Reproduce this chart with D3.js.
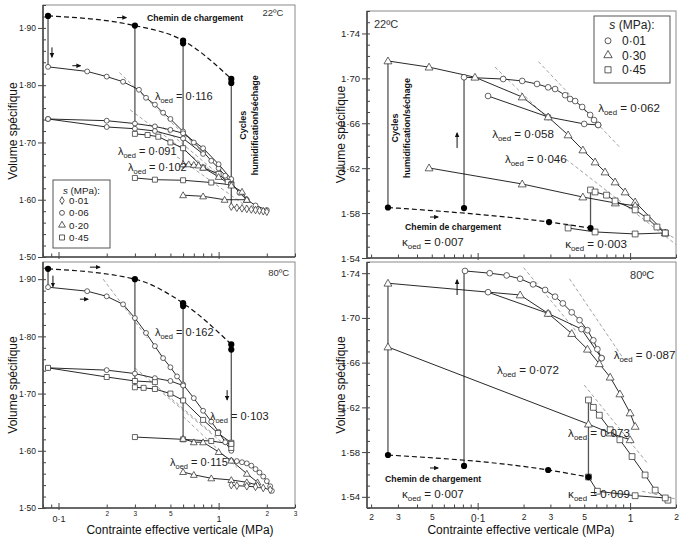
<!DOCTYPE html>
<html><head><meta charset="utf-8">
<script src="https://d3js.org/d3.v7.min.js"></script>
<style>
html,body{margin:0;padding:0;background:#fff;}
svg{display:block;font-family:"Liberation Sans",Arial,Helvetica,sans-serif;}
</style></head>
<body>
<svg id="chart" width="679" height="539"></svg>
<script>
// ---------------- tick labels ----------------
const leftYTicks = [1.50, 1.60, 1.70, 1.80, 1.90];
const leftYLabels = ["1·50", "1·60", "1·70", "1·80", "1·90"];
const rightYTicks = [1.54, 1.58, 1.62, 1.66, 1.70, 1.74];
const rightYLabels = ["1·54", "1·58", "1·62", "1·66", "1·70", "1·74"];
const leftXTicks = [0.1, 0.2, 0.3, 0.5, 1, 2, 3];
const leftXLabels = ["0·1", "2", "3", "5", "1", "2", "3"];
const rightXTicks = [0.02, 0.03, 0.05, 0.1, 0.2, 0.3, 0.5, 1, 2];
const rightXLabels = ["2", "3", "5", "0·1", "2", "3", "5", "1", "2"];
const leftLegendSyms = ["d", "o", "t", "s"];
const leftLegendVals = ["0·01", "0·06", "0·20", "0·45"];
const rightLegendSyms = ["o", "t", "s"];
const rightLegendVals = ["0·01", "0·30", "0·45"];

// ---------------- top-left: 22ºC ----------------
const tl_load = [[0.086,1.921],[0.30,1.904],[0.60,1.878],[1.20,1.811]];
const tl_loadPts = [[0.086,1.921],[0.30,1.904],[0.60,1.878],[0.60,1.873],[1.20,1.811],[1.20,1.804]];
const tl_cycles = [[0.086,1.921,1.832],[0.30,1.904,1.712],[0.60,1.878,1.655],[1.20,1.811,1.584]];
const tl_o1 = [[0.086,1.832],[0.151,1.824],[0.20,1.815],[0.253,1.806],[0.318,1.792],[0.352,1.778],[0.40,1.766],[0.45,1.752],[0.50,1.741],[0.60,1.719],[0.70,1.700],[0.80,1.684],[0.90,1.668],[1.0,1.655],[1.1,1.642],[1.2,1.630],[1.35,1.612],[1.5,1.600],[1.7,1.590],[2.0,1.582]];
const tl_o2 = [[0.086,1.741],[0.20,1.738],[0.30,1.733],[0.40,1.728],[0.50,1.722],[0.60,1.716],[0.80,1.690],[1.0,1.662],[1.2,1.636]];
const tl_o3 = [[0.086,1.741],[0.20,1.727],[0.30,1.724],[0.40,1.720],[0.60,1.707],[0.80,1.680]];
const tl_d = [[1.2,1.588],[1.3,1.586],[1.4,1.585],[1.5,1.584],[1.6,1.583],[1.7,1.582],[1.8,1.581],[1.9,1.580],[2.0,1.579]];
const tl_s1 = [[0.30,1.715],[0.36,1.713],[0.42,1.710],[0.50,1.700],[0.60,1.690],[0.80,1.656],[1.0,1.645],[1.14,1.631],[1.2,1.627]];
const tl_s2 = [[0.30,1.638],[0.40,1.635],[0.60,1.634],[0.90,1.630],[1.2,1.626]];
const tl_t1 = [[0.60,1.662],[0.65,1.662],[0.70,1.661],[0.75,1.660],[0.80,1.656],[1.0,1.640],[1.2,1.625],[1.4,1.614],[1.5,1.600]];
const tl_t2 = [[0.60,1.608],[0.80,1.606],[1.09,1.600],[1.5,1.600]];
const tl_tang = [[[0.24,1.822],[0.80,1.682]],[[0.28,1.757],[1.0,1.641]],[[0.45,1.726],[1.5,1.603]],[[0.55,1.675],[1.5,1.588]]];

// ---------------- bottom-left: 80ºC ----------------
const bl_load = [[0.086,1.918],[0.30,1.900],[0.60,1.858],[1.20,1.786]];
const bl_loadPts = [[0.086,1.918],[0.30,1.900],[0.60,1.858],[0.60,1.853],[1.20,1.786],[1.20,1.777]];
const bl_cycles = [[0.086,1.918,1.886],[0.30,1.900,1.711],[0.60,1.858,1.619],[1.20,1.786,1.605]];
const bl_o1 = [[0.086,1.886],[0.151,1.879],[0.20,1.870],[0.253,1.856],[0.30,1.832],[0.352,1.806],[0.40,1.783],[0.45,1.762],[0.50,1.746],[0.55,1.730],[0.60,1.716],[0.70,1.692],[0.80,1.670],[0.90,1.651],[1.0,1.633],[1.1,1.615],[1.2,1.600]];
const bl_o1b = [[1.2,1.583],[1.3,1.582],[1.4,1.580],[1.5,1.578],[1.6,1.574],[1.7,1.568],[1.8,1.562],[1.9,1.555],[2.0,1.547],[2.1,1.538],[2.15,1.530]];
const bl_o2 = [[0.086,1.745],[0.20,1.741],[0.30,1.735],[0.40,1.727],[0.50,1.722],[0.60,1.714]];
const bl_s0 = [[0.086,1.745],[0.20,1.729],[0.30,1.722],[0.40,1.720]];
const bl_s1 = [[0.30,1.711],[0.34,1.710],[0.40,1.708],[0.50,1.700],[0.60,1.688],[0.80,1.654],[0.99,1.631],[1.2,1.614],[1.2,1.605]];
const bl_s2 = [[0.30,1.624],[0.60,1.620],[0.90,1.617],[1.2,1.612]];
const bl_t1 = [[0.60,1.621],[0.70,1.615],[0.80,1.615],[1.0,1.598],[1.2,1.583],[1.5,1.560],[1.75,1.545]];
const bl_t2 = [[0.60,1.563],[0.70,1.558],[0.90,1.552],[1.2,1.549],[1.5,1.545],[1.75,1.540]];
const bl_d = [[1.2,1.540],[1.3,1.539],[1.5,1.538],[1.7,1.537],[1.9,1.535],[2.1,1.532]];
const bl_tang = [[[0.19,1.900],[0.36,1.797]],[[0.30,1.745],[0.9,1.632]],[[0.6,1.660],[1.3,1.571]],[[0.45,1.700],[1.1,1.610]]];

// ---------------- top-right: 22ºC ----------------
const tr_load = [[0.0258,1.585],[0.294,1.572],[0.55,1.5667]];
const tr_loadPts = [[0.0258,1.585],[0.0814,1.5845],[0.294,1.572],[0.55,1.5667]];
const tr_cycles = [[0.0258,1.585,1.7155],[0.0814,1.5845,1.701],[0.55,1.5667,1.600]];
const tr_o1 = [[0.0814,1.701],[0.147,1.6994],[0.196,1.6977],[0.245,1.695],[0.29,1.692],[0.322,1.6905],[0.375,1.685],[0.404,1.6816],[0.436,1.6798],[0.485,1.6745],[0.547,1.6674],[0.58,1.6629],[0.617,1.6585]];
const tr_o2 = [[0.117,1.6843],[0.29,1.6656],[0.50,1.6594],[0.617,1.6585]];
const tr_t1 = [[0.0258,1.7155],[0.048,1.710],[0.096,1.701],[0.196,1.6834],[0.29,1.6656],[0.392,1.6496],[0.49,1.6362],[0.589,1.6255],[0.685,1.6166],[0.797,1.6077],[0.927,1.5988],[1.079,1.5899],[1.7,1.5623]];
const tr_t2 = [[0.048,1.6202],[0.196,1.6059],[0.49,1.5943],[0.80,1.5890],[1.079,1.5865]];
const tr_s1 = [[0.55,1.6006],[0.589,1.5988],[0.70,1.596],[0.797,1.5908],[1.079,1.5828],[1.29,1.5756],[1.5,1.5676],[1.7,1.5623]];
const tr_s2 = [[0.392,1.5667],[0.589,1.5632],[1.079,1.5614],[1.7,1.5623]];
const tr_tang = [[[0.25,1.715],[0.85,1.639]],[[0.13,1.710],[0.30,1.662]],[[0.38,1.628],[2.0,1.552]],[[1.7,1.5623],[2.0,1.557]]];

// ---------------- bottom-right: 80ºC ----------------
const br_load = [[0.0258,1.5774],[0.29,1.564],[0.533,1.5577]];
const br_loadPts = [[0.0258,1.5774],[0.0814,1.5676],[0.29,1.564],[0.533,1.5577]];
const br_cycles = [[0.0258,1.5774,1.731],[0.0814,1.5676,1.742],[0.533,1.5577,1.6266]];
const br_o1 = [[0.0826,1.742],[0.12,1.740],[0.155,1.738],[0.19,1.735],[0.231,1.730],[0.277,1.725],[0.322,1.719],[0.362,1.713],[0.414,1.705],[0.466,1.698],[0.525,1.689],[0.574,1.680],[0.61,1.672],[0.65,1.664]];
const br_o2 = [[0.117,1.723],[0.29,1.704],[0.48,1.690],[0.65,1.664]];
const br_t1 = [[0.0258,1.731],[0.19,1.7205],[0.29,1.704],[0.414,1.686],[0.525,1.672],[0.628,1.659],[0.74,1.647],[0.857,1.632],[1.0,1.615],[1.079,1.603]];
const br_t2 = [[0.0258,1.674],[0.533,1.605],[0.74,1.597],[1.0,1.591]];
const br_s1 = [[0.533,1.6266],[0.574,1.620],[0.628,1.613],[0.74,1.600],[0.857,1.591],[1.03,1.576],[1.254,1.5595],[1.46,1.546],[1.77,1.537]];
const br_s2 = [[0.533,1.5577],[0.61,1.545],[1.079,1.541],[1.70,1.539]];
const br_tang = [[[0.40,1.735],[0.9,1.664]],[[0.2,1.745],[0.45,1.687]],[[0.5,1.640],[1.3,1.570]],[[1.2,1.545],[2.0,1.538]]];

// ---------------- annotations (data coordinates) ----------------
const tl_lambda = [{g:"λ",v:"0·116",at:[0.40,1.774]},{g:"λ",v:"0·091",at:[0.235,1.678]},{g:"λ",v:"0·102",at:[0.272,1.650]}];
const bl_lambda = [{g:"λ",v:"0·162",at:[0.40,1.801]},{g:"λ",v:"0·103",at:[0.883,1.654]},{g:"λ",v:"0·115",at:[0.497,1.573]}];
const tr_lambda = [{g:"λ",v:"0·062",at:[0.617,1.670]},{g:"λ",v:"0·058",at:[0.1245,1.647]},{g:"λ",v:"0·046",at:[0.151,1.6246]},{g:"κ",v:"0·007",at:[0.0319,1.5507]},{g:"κ",v:"0·003",at:[0.375,1.5489]}];
const br_lambda = [{g:"λ",v:"0·087",at:[0.78,1.6633]},{g:"λ",v:"0·072",at:[0.134,1.6499]},{g:"λ",v:"0·073",at:[0.392,1.5935]},{g:"κ",v:"0·007",at:[0.0319,1.539]},{g:"κ",v:"0·009",at:[0.392,1.539]}];
const tl_arrows = [[[0.091,1.866],[0.091,1.849]],[[0.232,1.918],[0.265,1.918]],[[0.122,1.834],[0.137,1.834]]];
const bl_arrows = [[[0.0923,1.906],[0.0923,1.887]],[[0.157,1.921],[0.181,1.921]],[[0.136,1.865],[0.153,1.865]],[[1.13,1.706],[1.13,1.689]]];
const tr_arrows = [[[0.0733,1.638],[0.0733,1.6513]],[[0.0487,1.5765],[0.055,1.5765]]];
const br_arrows = [[[0.0733,1.7205],[0.0733,1.734]],[[0.0487,1.5658],[0.055,1.5658]]];

// ---------------- drawing ----------------
const svg = d3.select('#chart');
const defs = svg.append('defs');
defs.append('marker').attr('id','ah').attr('viewBox','0 0 10 10').attr('refX',8).attr('refY',5)
  .attr('markerWidth',5).attr('markerHeight',5).attr('orient','auto')
  .append('path').attr('d','M0,0.5L10,5L0,9.5Z').attr('fill','#111');

const FONT = '"Liberation Sans",Arial,Helvetica,sans-serif';
const symType = {o:d3.symbolCircle, t:d3.symbolTriangle, s:d3.symbolSquare, d:d3.symbolDiamond};
const symArea = {o:19, t:20, s:25, d:17};

function makePanel(cfg){
  const x = d3.scaleLog().domain(cfg.xd).range(cfg.xr);
  const y = d3.scaleLinear().domain(cfg.yd).range(cfg.yr);
  const [x0,x1] = cfg.xr, [yb,yt] = cfg.yr;
  const g = svg.append('g');
  defs.append('clipPath').attr('id','clip-'+cfg.key).append('rect')
    .attr('x',x0).attr('y',yt).attr('width',x1-x0).attr('height',yb-yt);
  g.append('rect').attr('x',x0).attr('y',yt).attr('width',x1-x0).attr('height',yb-yt)
    .attr('fill','none').attr('stroke','#8a8a8a').attr('stroke-width',1);
  const ya = g.append('g').attr('transform',`translate(${x0},0)`)
    .call(d3.axisLeft(y).tickValues(cfg.yTicks).tickFormat((d,i)=>cfg.yLabels[i]).tickSize(5).tickPadding(2));
  ya.select('.domain').remove();
  ya.selectAll('line').attr('stroke','#444');
  ya.selectAll('text').attr('font-size',cfg.yFont).attr('font-family',FONT).attr('fill','#222');
  const ym = g.append('g').attr('transform',`translate(${x0},0)`)
    .call(d3.axisRight(y).tickValues(d3.range(cfg.yd[0], cfg.yd[1]+1e-9, cfg.yMinor)).tickSize(3).tickFormat(''));
  ym.select('.domain').remove(); ym.selectAll('line').attr('stroke','#444');
  const all = x.ticks().filter(v=>v>=cfg.xd[0] && v<=cfg.xd[1]);
  const isDec = v => Math.abs(Math.log10(v)-Math.round(Math.log10(v)))<1e-6;
  const xm = g.append('g').attr('transform',`translate(0,${yb})`)
    .call(d3.axisTop(x).tickValues(all.filter(v=>!isDec(v))).tickSize(3.5).tickFormat(''));
  xm.select('.domain').remove(); xm.selectAll('line').attr('stroke','#444');
  const xM = g.append('g').attr('transform',`translate(0,${yb+2})`)
    .call(d3.axisTop(x).tickValues(all.filter(isDec)).tickSize(7).tickFormat(''));
  xM.select('.domain').remove(); xM.selectAll('line').attr('stroke','#444');
  if (cfg.xLabels){
    const xl = g.append('g').attr('transform',`translate(0,${yb})`)
      .call(d3.axisBottom(x).tickValues(cfg.xTicks).tickFormat((d,i)=>cfg.xLabels[i]).tickSize(0));
    xl.select('.domain').remove();
    xl.selectAll('text').attr('font-family',FONT).attr('fill','#222').attr('dy',0)
      .attr('font-size',d=>isDec(d)?cfg.xFontMaj:cfg.xFontMin)
      .attr('y',d=>isDec(d)?cfg.xLabYMaj:cfg.xLabYMin);
  }
  g.append('line').attr('x1',x0).attr('x2',x0).attr('y1',yt).attr('y2',yb).attr('stroke','#4a4a4a').attr('stroke-width',1.6);
  g.append('line').attr('x1',x0).attr('x2',x1).attr('y1',yb).attr('y2',yb).attr('stroke','#4a4a4a').attr('stroke-width',1.6);
  const gc = g.append('g').attr('clip-path',`url(#clip-${cfg.key})`);
  return {x,y,g,gc,cfg};
}

function drawData(P, d){
  const {x,y,gc} = P;
  const line = d3.line().x(p=>x(p[0])).y(p=>y(p[1]));
  const k = P.cfg.symScale;
  d.tang.forEach(t=>gc.append('path').attr('d',line(t)).attr('fill','none')
    .attr('stroke','#8a8a8a').attr('stroke-width',0.8).attr('stroke-dasharray','3.5,2.5'));
  d.cycles.forEach(c=>gc.append('line').attr('x1',x(c[0])).attr('x2',x(c[0]))
    .attr('y1',y(c[1])).attr('y2',y(c[2])).attr('stroke','#555').attr('stroke-width',1.3));
  gc.append('path').attr('d',d3.line().curve(d3.curveMonotoneX).x(p=>x(p[0])).y(p=>y(p[1]))(d.load))
    .attr('fill','none').attr('stroke','#111').attr('stroke-width',1.2).attr('stroke-dasharray','5,3');
  d.series.forEach(s=>gc.append('path').attr('d',line(s.pts)).attr('fill','none')
    .attr('stroke','#111').attr('stroke-width',0.9));
  d.series.forEach(s=>{
    const sym = d3.symbol().type(symType[s.sym]).size(symArea[s.sym]*k);
    gc.selectAll(null).data(s.pts).enter().append('path')
      .attr('transform',p=>`translate(${x(p[0])},${y(p[1])})${s.sym==='t'?'translate(0,0.6)':''}`)
      .attr('d',sym).attr('fill','#fff').attr('stroke','#333').attr('stroke-width',0.75);
  });
  gc.selectAll(null).data(d.loadPts).enter().append('circle')
    .attr('cx',p=>x(p[0])).attr('cy',p=>y(p[1])).attr('r',3.1).attr('fill','#000');
  d.arrows.forEach(a=>P.g.append('line').attr('x1',x(a[0][0])).attr('y1',y(a[0][1]))
    .attr('x2',x(a[1][0])).attr('y2',y(a[1][1])).attr('stroke','#111').attr('stroke-width',1)
    .attr('marker-end','url(#ah)'));
  d.lambda.forEach(l=>{
    const t = P.g.append('text').attr('x',x(l.at[0])).attr('y',y(l.at[1]))
      .attr('font-family',FONT).attr('font-size',P.cfg.lamFont).attr('fill','#222');
    t.append('tspan').text(l.g);
    t.append('tspan').attr('dy',P.cfg.lamFont*0.28).attr('font-size',P.cfg.lamFont*0.68).text('oed');
    t.append('tspan').attr('dy',-P.cfg.lamFont*0.28).text(' = '+l.v);
  });
}

function txt(g, px, py, s, opt={}){
  const t = g.append('text').attr('x',px).attr('y',py).attr('font-family',FONT)
    .attr('font-size',opt.size||10).attr('fill',opt.fill||'#111')
    .attr('font-weight',opt.bold?'bold':'normal').attr('text-anchor',opt.anchor||'start');
  if (opt.rot) t.attr('transform',`rotate(-90,${px},${py})`);
  t.text(s);
  return t;
}

function legend(g, bx, by, bw, bh, syms, vals, o){
  g.append('rect').attr('x',bx).attr('y',by).attr('width',bw).attr('height',bh)
    .attr('fill','#fff').attr('stroke','#555').attr('stroke-width',1);
  const t = g.append('text').attr('x',bx+bw/2).attr('y',by+o.titleY).attr('text-anchor','middle')
    .attr('font-family',FONT).attr('font-size',o.size).attr('fill','#222');
  t.append('tspan').attr('font-style','italic').text('s');
  t.append('tspan').text(' (MPa):');
  syms.forEach((s,i)=>{
    const yy = by + o.row0 + i*o.dy;
    g.append('path').attr('transform',`translate(${bx+o.symX},${yy - o.size*0.35})`)
      .attr('d',d3.symbol().type(symType[s]).size(symArea[s]*o.k)).attr('fill','#fff')
      .attr('stroke','#333').attr('stroke-width',0.8);
    g.append('text').attr('x',bx+o.txtX).attr('y',yy).attr('font-family',FONT)
      .attr('font-size',o.size).attr('fill','#222').text(vals[i]);
  });
}

const leftCfg = {xd:[0.08,3], xr:[43,295], yTicks:leftYTicks, yLabels:leftYLabels, yMinor:0.02, yFont:8.5,
  xTicks:leftXTicks, xLabels:null, xFontMaj:9, xFontMin:6.5, xLabYMaj:14, xLabYMin:8, lamFont:11, symScale:1};
const rightCfg = {xd:[0.0188,2], xr:[367,676], yTicks:rightYTicks, yLabels:rightYLabels, yMinor:0.01, yFont:9.5,
  xTicks:rightXTicks, xLabels:null, xFontMaj:10, xFontMin:8.5, xLabYMaj:14, xLabYMin:12, lamFont:11.6, symScale:1.35};

const TL = makePanel(Object.assign({}, leftCfg, {key:'tl', yd:[1.50,1.94], yr:[257,5]}));
const BL = makePanel(Object.assign({}, leftCfg, {key:'bl', yd:[1.50,1.93], yr:[508,262], xLabels:leftXLabels}));
const TR = makePanel(Object.assign({}, rightCfg, {key:'tr', yd:[1.54,1.76], yr:[258,11]}));
const BR = makePanel(Object.assign({}, rightCfg, {key:'br', yd:[1.53,1.75], yr:[508,262], xLabels:rightXLabels}));

drawData(TL, {load:tl_load, loadPts:tl_loadPts, cycles:tl_cycles, tang:tl_tang, arrows:tl_arrows, lambda:tl_lambda,
  series:[{pts:tl_o1,sym:'o'},{pts:tl_o2,sym:'o'},{pts:tl_o3,sym:'o'},{pts:tl_s1,sym:'s'},{pts:tl_s2,sym:'s'},
          {pts:tl_t1,sym:'t'},{pts:tl_t2,sym:'t'},{pts:tl_d,sym:'d'}]});
drawData(BL, {load:bl_load, loadPts:bl_loadPts, cycles:bl_cycles, tang:bl_tang, arrows:bl_arrows, lambda:bl_lambda,
  series:[{pts:bl_o1,sym:'o'},{pts:bl_o1b,sym:'o'},{pts:bl_o2,sym:'o'},{pts:bl_s0,sym:'s'},{pts:bl_s1,sym:'s'},{pts:bl_s2,sym:'s'},
          {pts:bl_t1,sym:'t'},{pts:bl_t2,sym:'t'},{pts:bl_d,sym:'d'}]});
drawData(TR, {load:tr_load, loadPts:tr_loadPts, cycles:tr_cycles, tang:tr_tang, arrows:tr_arrows, lambda:tr_lambda,
  series:[{pts:tr_o1,sym:'o'},{pts:tr_o2,sym:'o'},{pts:tr_t1,sym:'t'},{pts:tr_t2,sym:'t'},{pts:tr_s1,sym:'s'},{pts:tr_s2,sym:'s'}]});
drawData(BR, {load:br_load, loadPts:br_loadPts, cycles:br_cycles, tang:br_tang, arrows:br_arrows, lambda:br_lambda,
  series:[{pts:br_o1,sym:'o'},{pts:br_o2,sym:'o'},{pts:br_t1,sym:'t'},{pts:br_t2,sym:'t'},{pts:br_s1,sym:'s'},{pts:br_s2,sym:'s'}]});

txt(TL.g, TL.x(0.357), TL.y(1.912), 'Chemin de chargement', {bold:true, size:8.7});
txt(TL.g, TL.x(1.88), TL.y(1.921), '22ºC', {size:9.5, fill:'#333'});
txt(TL.g, TL.x(1.49), TL.y(1.73), 'Cycles', {bold:true, size:9, rot:true, anchor:'middle'});
txt(TL.g, TL.x(1.76), TL.y(1.73), 'humidification/séchage', {bold:true, size:9, rot:true, anchor:'middle'});
txt(BL.g, BL.x(2.04), BL.y(1.9056), '80ºC', {size:9.5, fill:'#333'});
txt(TR.g, TR.x(0.0209), TR.y(1.7449), '22ºC', {size:11, fill:'#333'});
txt(TR.g, TR.x(0.0334), TR.y(1.5649), 'Chemin de chargement', {bold:true, size:8.7});
txt(TR.g, TR.x(0.030), TR.y(1.6558), 'Cycles', {bold:true, size:9, rot:true, anchor:'middle'});
txt(TR.g, TR.x(0.036), TR.y(1.6558), 'humidification/séchage', {bold:true, size:9, rot:true, anchor:'middle'});
txt(BR.g, BR.x(1.0), BR.y(1.7348), '80ºC', {size:11, fill:'#333'});
txt(BR.g, BR.x(0.0247), BR.y(1.5533), 'Chemin de chargement', {bold:true, size:8.7});

legend(TL.g, 53, 180, 57, 68, leftLegendSyms, leftLegendVals, {titleY:14, row0:24, dy:12.3, symX:9, txtX:16, size:9.8, k:1});
legend(TR.g, 594, 16, 76, 67, rightLegendSyms, rightLegendVals, {titleY:13, row0:29, dy:14.5, symX:14, txtX:28, size:12, k:1.5});

txt(svg, 180, 534, 'Contrainte effective verticale (MPa)', {size:12, anchor:'middle'});
txt(svg, 521, 534, 'Contrainte effective verticale (MPa)', {size:12, anchor:'middle'});
txt(svg, 17, 131, 'Volume spécifique', {size:12, anchor:'middle', rot:true});
txt(svg, 17, 385, 'Volume spécifique', {size:12, anchor:'middle', rot:true});
txt(svg, 345, 134.5, 'Volume spécifique', {size:12, anchor:'middle', rot:true});
txt(svg, 345, 385, 'Volume spécifique', {size:12, anchor:'middle', rot:true});
</script>
</body></html>
